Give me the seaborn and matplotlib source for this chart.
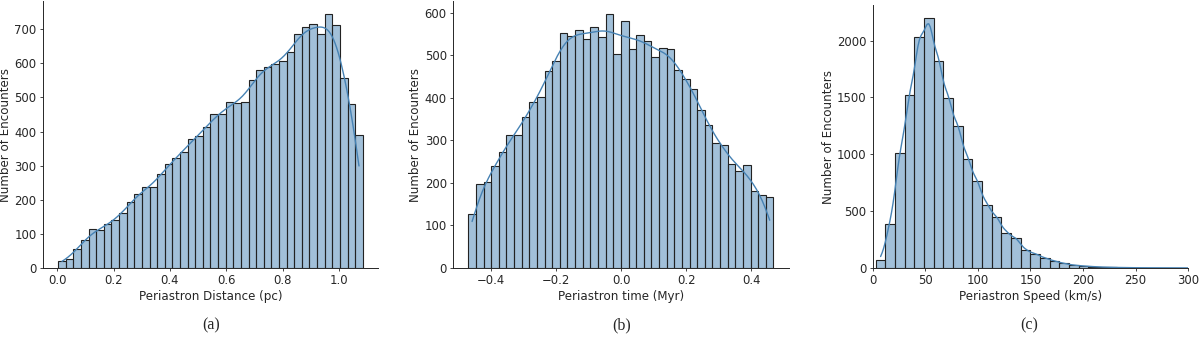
import numpy as np
import matplotlib
matplotlib.use("Agg")
import matplotlib.pyplot as plt
import seaborn as sns

# counts (40, 40 and 33 bins)
dist_range = (0.003, 1.085)
dist_counts = [20, 26, 55, 83, 114, 110, 128, 140, 160, 193, 218, 236, 236, 275, 306, 322,
               341, 378, 386, 412, 450, 450, 487, 483, 487, 550, 580, 590, 598, 607, 632, 685,
               705, 714, 686, 745, 713, 558, 482, 389]

time_range = (-0.470, 0.469)
time_counts = [128, 198, 202, 239, 272, 312, 312, 355, 390, 402, 463, 487, 551, 545, 560, 537,
               566, 543, 597, 502, 580, 514, 548, 534, 495, 517, 515, 465, 445, 421, 370, 336,
               294, 289, 245, 229, 242, 182, 172, 166]

speed_range = (2.85, 306.1)
speed_counts = [68, 385, 1013, 1518, 2032, 2203, 1822, 1492, 1248, 963, 764, 553, 452, 311, 267,
                156, 126, 88, 62, 40, 25, 18, 12, 8, 6, 4, 3, 2, 2, 1, 1, 1, 1]

xlabels = ["Periastron Distance (pc)", "Periastron time (Myr)", "Periastron Speed (km/s)"]
captions = ["(a)", "(b)", "(c)"]

sns.set_style("ticks")
plt.rcParams["font.family"] = ["DejaVu Sans"]

fig = plt.figure(figsize=(12, 3.37), dpi=100)

# axes boxes (fig fraction) to line up with the three sub-figures
boxes = [[0.0358, 0.2047, 0.2792, 0.792],
         [0.3775, 0.2047, 0.2798, 0.792],
         [0.7273, 0.2047, 0.2628, 0.7804]]

panels = [(dist_range, dist_counts), (time_range, time_counts), (speed_range, speed_counts)]

for i, ((lo, hi), counts) in enumerate(panels):
    ax = fig.add_axes(boxes[i])
    edges = np.linspace(lo, hi, len(counts) + 1)
    centers = (edges[:-1] + edges[1:]) / 2
    values = np.repeat(centers, counts)  # one sample per encounter
    sns.histplot(x=values, bins=edges, kde=True, color="steelblue", alpha=0.5,
                 edgecolor="#222222", linewidth=0.8, line_kws={"lw": 1.0}, ax=ax)
    ax.set_xlabel(xlabels[i], fontsize=8.6, labelpad=2)
    ax.set_ylabel("Number of Encounters", fontsize=8.6, labelpad=1.5)
    ax.tick_params(labelsize=8.4, length=2.5, width=0.6, pad=2)
    for s in ax.spines.values():
        s.set_linewidth(0.7)
    sns.despine(ax=ax)
    if i == 2:
        ax.set_xlim(0, 300)
    fig.text([0.176, 0.518, 0.858][i], 0.035, captions[i], ha="center", va="center",
             fontsize=11.5, family=["Liberation Serif"])

fig.savefig("out.png", dpi=100)
